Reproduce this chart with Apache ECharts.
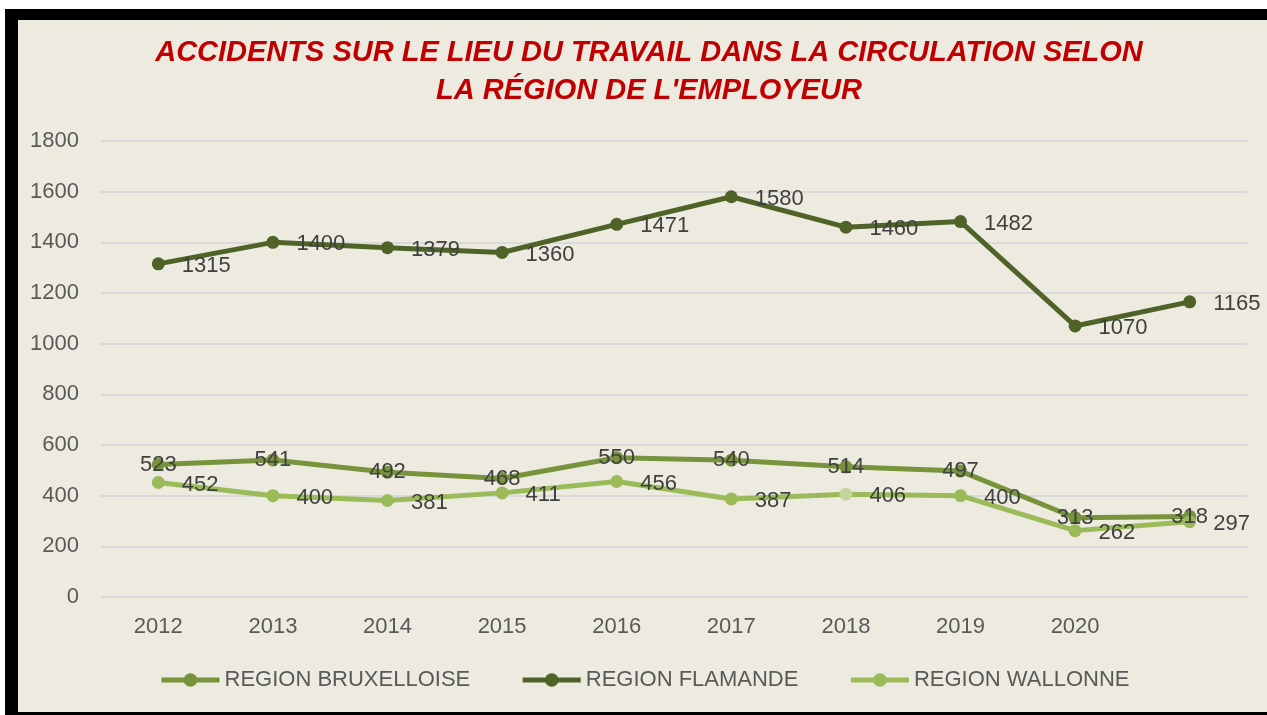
<!DOCTYPE html>
<html>
<head>
<meta charset="utf-8">
<script src="https://cdn.jsdelivr.net/npm/echarts@6/dist/echarts.min.js"></script>
<style>
html,body{margin:0;padding:0;background:#ffffff;}
#chart{width:1267px;height:715px;}
</style>
</head>
<body>
<div id="chart"></div>
<script>
const categories = ['2012','2013','2014','2015','2016','2017','2018','2019','2020','2021'];
const tickLabels = ['2012','2013','2014','2015','2016','2017','2018','2019','2020',''];
const yTicks = [0,200,400,600,800,1000,1200,1400,1600,1800];
const seriesNames = ['REGION BRUXELLOISE','REGION FLAMANDE','REGION WALLONNE'];
const bruxelloise = [523,541,492,468,550,540,514,497,313,318];
const flamande = [1315,1400,1379,1360,1471,1580,1460,1482,1070,1165];
const wallonne = [452,400,381,411,456,387,406,400,262,297];

const FONT = 'Liberation Sans';
const chart = echarts.init(document.getElementById('chart'), null, {renderer:'canvas'});

function lineSeries(name, data, color, labelPos) {
  return {
    name: name,
    type: 'line',
    data: data,
    symbol: 'circle',
    symbolSize: 13,
    lineStyle: {color: color, width: 5},
    itemStyle: {color: color},
    label: {
      show: true,
      position: labelPos,
      distance: labelPos === 'right' ? 17 : 0,
      offset: labelPos === 'right' ? [0, 2] : [0, 0],
      color: '#404040',
      fontFamily: FONT,
      fontSize: 22
    },
    emphasis: {disabled: true},
    animation: false
  };
}

chart.setOption({
  backgroundColor: 'transparent',
  animation: false,
  graphic: [
    {type:'rect', z:-10, shape:{x:5,y:9,width:1275,height:720}, style:{fill:'#000000'}},
    {type:'rect', z:-9, shape:{x:18,y:20,width:1260,height:692}, style:{fill:'#EDEBE0'}}
  ],
  title: {
    text: 'ACCIDENTS SUR LE LIEU DU TRAVAIL DANS LA CIRCULATION SELON\nLA RÉGION DE L\'EMPLOYEUR',
    left: 644,
    top: 29,
    textAlign: 'center',
    textStyle: {
      color: '#C00000',
      fontFamily: FONT,
      fontStyle: 'italic',
      fontWeight: 'bold',
      fontSize: 29,
      lineHeight: 38
    }
  },
  grid: {left: 101, right: 20, top: 141, bottom: 118, containLabel: false},
  xAxis: {
    type: 'category',
    data: categories,
    boundaryGap: true,
    axisLine: {show: false},
    axisTick: {show: false},
    axisLabel: {
      color: '#595959',
      fontFamily: FONT,
      fontSize: 22,
      margin: 19,
      formatter: function (v, i) { return tickLabels[i]; }
    },
    splitLine: {show: false}
  },
  yAxis: {
    type: 'value',
    min: yTicks[0],
    max: yTicks[yTicks.length - 1],
    interval: yTicks[1] - yTicks[0],
    axisLine: {show: false},
    axisTick: {show: false},
    axisLabel: {color: '#595959', fontFamily: FONT, fontSize: 22, margin: 22,
      formatter: function (v) { return String(v); }},
    splitLine: {lineStyle: {color: '#D9D9D9', width: 2}}
  },
  legend: {
    left: 154,
    top: 664,
    itemWidth: 58,
    itemHeight: 17,
    itemGap: 50,
    lineStyle: {width: 5},
    textStyle: {color: '#595959', fontFamily: FONT, fontSize: 22},
    data: seriesNames
  },
  visualMap: {
    type: 'piecewise',
    show: false,
    seriesIndex: 2,
    dimension: 0,
    pieces: [
      {lte: 5, color: '#9BBB59'},
      {gt: 5, lte: 6, color: '#C3D69B'},
      {gt: 6, color: '#9BBB59'}
    ]
  },
  series: [
    lineSeries(seriesNames[0], bruxelloise, '#77933C', 'inside'),
    lineSeries(seriesNames[1], flamande, '#4F6228', 'right'),
    lineSeries(seriesNames[2], wallonne, '#9BBB59', 'right')
  ]
});
</script>
</body>
</html>
